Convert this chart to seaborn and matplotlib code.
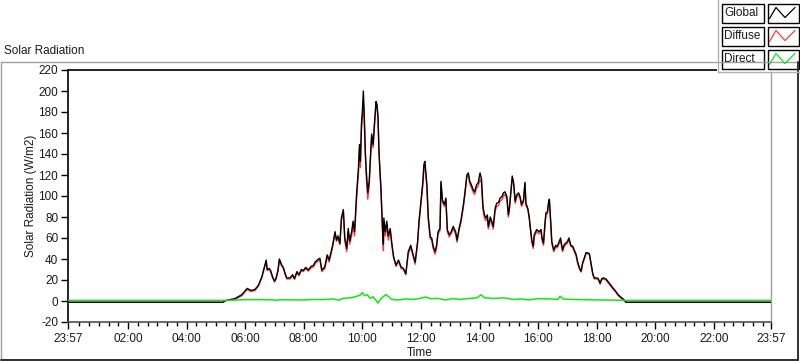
import matplotlib
matplotlib.use("Agg")
import matplotlib.pyplot as plt
from matplotlib.patches import Rectangle
from matplotlib.lines import Line2D
import seaborn as sns
import pandas as pd

# ---- data (minutes since midnight; -3 = 23:57 previous day, 1437 = 23:57) ----
t_main = [-3, 314, 320, 339, 353, 364, 372, 380, 387, 394,
          399, 403, 405, 409, 412, 416, 420, 423, 427, 430,
          435, 438, 442, 445, 452, 457, 461, 466, 470, 475,
          479, 484, 489, 495, 500, 503, 510, 513, 517, 523,
          528, 532, 539, 544, 547, 550, 554, 557, 561, 564,
          568, 571, 574, 578, 581, 584, 588, 592, 594, 596,
          598, 600, 602, 604, 606, 608, 611, 614, 616, 619,
          622, 625, 628, 630, 632, 634, 636, 638, 640, 641,
          643, 644, 647, 650, 653, 657, 660, 664, 669, 674,
          679, 684, 689, 694, 699, 704, 708, 713, 716, 720,
          724, 726, 728, 732, 735, 739, 742, 745, 749, 752,
          755, 759, 761, 764, 768, 771, 774, 778, 782, 786,
          791, 794, 798, 802, 807, 810, 814, 817, 820, 823,
          827, 830, 834, 837, 841, 844, 847, 850, 853, 856,
          858, 862, 865, 868, 872, 875, 879, 882, 886, 889,
          892, 896, 899, 901, 904, 907, 910, 913, 916, 920,
          923, 926, 930, 933, 935, 939, 942, 943, 947, 950,
          952, 957, 962, 966, 968, 971, 974, 976, 979, 981,
          983, 986, 988, 992, 996, 999, 1003, 1006, 1010, 1013,
          1016, 1020, 1023, 1027, 1031, 1034, 1038, 1041, 1045, 1048,
          1051, 1055, 1058, 1061, 1065, 1069, 1072, 1075, 1079, 1083,
          1087, 1090, 1093, 1099, 1104, 1109, 1114, 1120, 1124, 1129,
          1135, 1140, 1437]

global_rad = [-1.2, -1.2, 0.5, 2.3, 6, 12, 10, 11, 15, 23,
              32, 39, 30, 31, 29, 23, 19, 21.5, 29, 40,
              34, 32, 26, 22, 22, 25, 21.5, 28, 25, 30,
              29, 32, 29.5, 33, 34, 37, 40, 40.6, 29.4, 32.6,
              44, 39, 53, 66, 58, 62, 55, 79, 87, 60,
              50, 69, 57, 66, 76, 66, 101, 127, 149, 133,
              168, 181, 200, 175, 143, 124, 103, 114, 133, 159,
              149, 171, 190, 187, 175, 143, 124, 108, 85, 72,
              54, 79, 66, 76, 62, 69, 56, 42, 34, 39,
              32.6, 31, 26, 47, 53, 44, 37, 56, 76, 95,
              114, 130, 133, 112, 80, 61, 60, 52, 47, 53,
              66, 69, 114, 96, 92, 98, 68, 63, 66, 71,
              66, 58, 69, 77, 92, 103, 120, 122, 114, 111,
              106, 104, 111, 112, 122, 116, 90, 82, 79, 82,
              71, 80, 76, 71, 88.5, 93, 94, 98, 99.5, 103,
              104, 99.5, 82, 88, 103, 119, 112, 95, 101, 103,
              99.5, 92, 96, 113, 93, 88, 79, 74, 58, 52,
              63, 68, 66, 68, 60, 55, 74, 84, 85, 93,
              97, 74, 56.5, 48.5, 53, 52, 56.5, 60, 48.5, 53,
              55, 56.5, 60, 53, 52, 48.5, 44, 37, 31, 28.5,
              36, 41.5, 46, 46, 45, 34, 26, 22, 22, 21.5,
              17, 21, 22, 21, 18, 15, 12, 8.6, 6, 3.8,
              1.6, -1.2, -1.2]

diffuse_rad = [-1.2, -1.2, 0.2, 1.5, 5, 11, 9, 10, 14, 22,
               31, 37, 29, 30, 28, 22, 18, 20.5, 28, 38.5,
               33, 31, 25, 21, 21, 24, 20.5, 27, 24, 29,
               28, 31, 28.5, 31.5, 32.5, 35.5, 38.5, 39, 28, 31,
               42, 37, 51, 64, 57, 59.5, 53.5, 76.5, 84, 57,
               47, 66, 54, 62, 72, 62, 96, 122, 143, 127,
               161, 174, 192, 169, 138, 118, 97, 110, 130, 155,
               146, 168, 188, 185, 173, 141, 122, 105, 80, 68,
               48, 75, 62, 72, 58, 67, 54, 41, 33, 38,
               31, 30, 25, 45, 51, 42.5, 35, 54, 74, 93,
               111, 127, 129, 109, 77, 59, 58, 50, 44.5, 51,
               64, 67, 112, 94, 90, 96, 66, 61, 64, 69,
               63.5, 56, 67.5, 75, 90, 101, 118, 119.5, 111.5, 108.5,
               103.5, 101.5, 108, 109, 116, 112, 87, 79, 76.5, 79.5,
               68.5, 77.5, 73.5, 68.5, 86, 90, 91, 95, 96.5, 100,
               101.5, 97, 80, 86, 101.5, 117, 110, 93, 99, 101,
               97.5, 90, 94, 111.5, 91, 87, 78, 73, 56, 50,
               61, 66, 64, 66, 58, 53, 72, 82, 83, 91,
               95, 72, 55, 47, 51.5, 50.5, 54.5, 57, 47, 51.5,
               53.5, 55, 58.5, 52, 50.5, 47, 42.5, 35.5, 30, 27.5,
               35, 40.5, 45, 45, 44, 33, 25, 21, 21, 20.5,
               16, 20, 21, 20, 17, 14, 11, 7.8, 5.2, 3,
               1, -1.2, -1.2]

t_direct = [-3, 320, 345, 360, 390, 420, 425, 432, 480, 500,
            520, 540, 552, 560, 575, 585, 595, 600, 604, 610,
            616, 622, 628, 632, 636, 640, 648, 654, 660, 675,
            690, 705, 718, 730, 740, 755, 770, 785, 800, 820,
            835, 843, 850, 870, 890, 910, 925, 940, 960, 985,
            1000, 1005, 1012, 1030, 1060, 1090, 1120, 1140, 1437]
direct_rad = [0.6, 0.6, 1.0, 1.3, 1.3, 1.0, 0.6, 1.2, 1.0, 1.5,
              1.3, 2.0, 0.8, 2.5, 3.0, 4.0, 5.5, 8.0, 5.0, 6.0,
              2.5, 4.0, 0.5, -2.0, 1.0, 3.0, 6.2, 4.0, 1.5, 1.0,
              2.0, 1.5, 2.5, 3.8, 2.2, 2.5, 1.0, 2.3, 1.5, 2.5,
              3.0, 6.0, 3.0, 2.5, 3.0, 1.5, 2.0, 1.0, 2.2, 2.0,
              1.5, 4.5, 1.8, 1.5, 1.2, 1.0, 0.8, 0.6, 0.6]

x_tick_minutes = [-3, 120, 240, 360, 480, 600, 720, 840, 960, 1080, 1200, 1320, 1437]
x_tick_labels = ["23:57", "02:00", "04:00", "06:00", "08:00", "10:00", "12:00",
                 "14:00", "16:00", "18:00", "20:00", "22:00", "23:57"]
y_ticks = list(range(-20, 221, 20))
legend_names = ["Global", "Diffuse", "Direct"]

COL_GLOBAL = "#000000"
COL_DIFFUSE = "#ff3b3b"
COL_DIRECT = "#14e614"

df_main = pd.DataFrame({"t": t_main, "Global": global_rad, "Diffuse": diffuse_rad})
df_dir = pd.DataFrame({"t": t_direct, "Direct": direct_rad})

# ---- figure ----
sns.set_style("white")
plt.rcParams["font.family"] = ["Liberation Sans", "DejaVu Sans"]

W, H = 800, 361
fig = plt.figure(figsize=(W / 100, H / 100), dpi=100)
fig.patch.set_facecolor("white")

ax = fig.add_axes([68 / W, (H - 322) / H, (771 - 68) / W, (322 - 70) / H])
ax.set_facecolor("white")

sns.lineplot(data=df_main, x="t", y="Diffuse", ax=ax, color=COL_DIFFUSE,
             linewidth=1.0, estimator=None, sort=False, zorder=2)
sns.lineplot(data=df_main, x="t", y="Global", ax=ax, color=COL_GLOBAL,
             linewidth=1.0, estimator=None, sort=False, zorder=3)
sns.lineplot(data=df_dir, x="t", y="Direct", ax=ax, color=COL_DIRECT,
             linewidth=1.1, estimator=None, sort=False, zorder=4)

ax.set_xlim(-3, 1437)
ax.set_ylim(-20, 220)
ax.set_xticks(x_tick_minutes)
ax.set_xticklabels(x_tick_labels)
minor = [m for m in range(20, 1437, 20) if m % 120 != 0]
ax.set_xticks(minor, minor=True)
ax.set_yticks(y_ticks)
ax.set_yticklabels([str(v) for v in y_ticks])

ax.tick_params(axis="both", which="major", direction="out", length=5, width=1,
               color="black", labelsize=8.5, labelcolor="#1a1a1a")
ax.tick_params(axis="x", which="major", pad=3)
ax.tick_params(axis="y", which="major", pad=2)
ax.tick_params(axis="x", which="minor", direction="out", length=3, width=1, color="black")
ax.tick_params(axis="y", left=True)
ax.tick_params(axis="x", bottom=True, which="both")

for side in ["left", "top"]:
    ax.spines[side].set_color("black")
    ax.spines[side].set_linewidth(1.2)
ax.spines["bottom"].set_color("#505050")
ax.spines["bottom"].set_linewidth(1.2)
ax.spines["right"].set_color("#a0a0a0")
ax.spines["right"].set_linewidth(1.0)

ax.set_xlabel("Time", fontsize=8.5, color="#1a1a1a")
ax.xaxis.label.set_va("center")
ax.xaxis.set_label_coords(0.5, (322 - 353) / 252)
ax.set_ylabel("Solar Radiation (W/m2)", fontsize=8.5, color="#1a1a1a")
ax.yaxis.label.set_va("center")
ax.yaxis.set_label_coords((31 - 68) / 703, 0.5)

# ---- overlay for panel frame, title and legend (pixel coordinates) ----
ov = fig.add_axes([0, 0, 1, 1], zorder=10)
ov.set_xlim(0, W)
ov.set_ylim(H, 0)
ov.axis("off")
ov.patch.set_alpha(0)

# panel frame
ov.add_line(Line2D([0.5, 0.5], [61.5, 360], color="#a0a0a0", lw=1))
ov.add_line(Line2D([0.5, 797.5], [61.5, 61.5], color="#a0a0a0", lw=1))
ov.add_line(Line2D([798, 798], [61.5, 360], color="#303030", lw=1.4))
ov.add_line(Line2D([0.5, 798], [359.8, 359.8], color="#303030", lw=1.4))

ov.text(4, 50.5, "Solar Radiation", fontsize=8.5, color="#1a1a1a", va="center", ha="left")

# legend block
ov.add_patch(Rectangle((717, -1), 84, 73, facecolor="white", edgecolor="none"))
ov.add_line(Line2D([717.5, 717.5], [0, 72], color="#b0b0b0", lw=1))
ov.add_line(Line2D([717.5, 800], [72, 72], color="#b0b0b0", lw=1))
legend_cols = [COL_GLOBAL, COL_DIFFUSE, COL_DIRECT]
for i, (name, col) in enumerate(zip(legend_names, legend_cols)):
    y0 = 3.5 + i * 23.0
    ov.add_patch(Rectangle((721.5, y0), 42, 19, facecolor="white", edgecolor="black", lw=1.0))
    ov.add_patch(Rectangle((767.5, y0), 31, 19, facecolor="white", edgecolor="black", lw=1.0))
    ov.text(724, y0 + 9.5, name, fontsize=8.5, color="#1a1a1a", va="center", ha="left")
    ov.add_line(Line2D([769.5, 776, 785, 795], [y0 + 15, y0 + 4, y0 + 14, y0 + 4],
                       color=col, lw=0.9))

fig.savefig("out.png", dpi=100, facecolor="white")
